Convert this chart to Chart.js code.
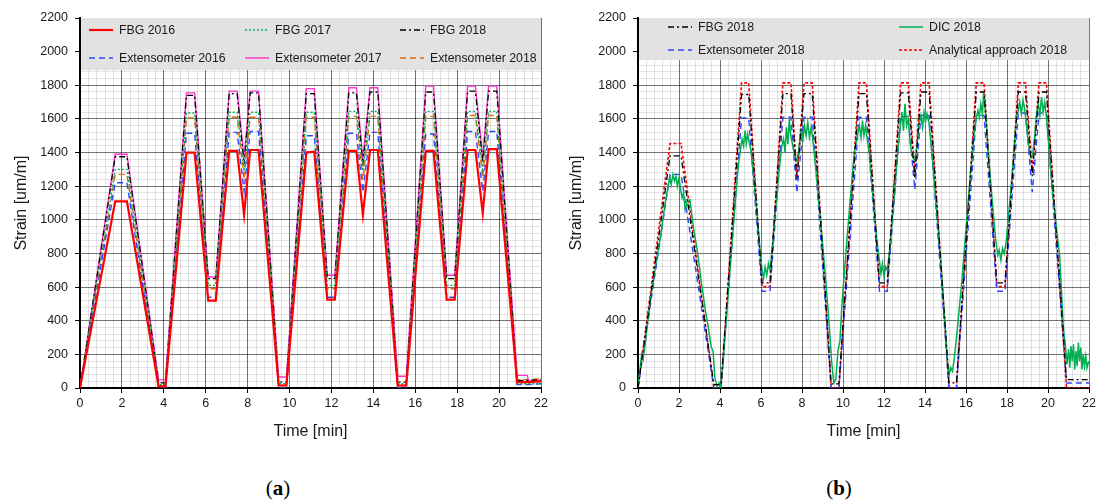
<!DOCTYPE html>
<html>
<head>
<meta charset="utf-8">
<script src="https://cdn.jsdelivr.net/npm/chart.js@4.4.1/dist/chart.umd.min.js"></script>
<style>
  html, body { margin: 0; padding: 0; background: #fff; width: 1099px; height: 504px; overflow: hidden; }
  canvas { position: absolute; top: 0; }
  #chartA { left: 0; }
  #chartB { left: 555px; }
  .cap { position: absolute; top: 476px; width: 60px; text-align: center;
         font-family: 'Liberation Serif', 'DejaVu Serif', serif; font-size: 21px; color: #000; }
</style>
</head>
<body>
<canvas id="chartA" width="555" height="450"></canvas>
<canvas id="chartB" width="544" height="450"></canvas>
<div class="cap" style="left:248px">(<b>a</b>)</div>
<div class="cap" style="left:809px">(<b>b</b>)</div>
<script>
// panel (a): time points of the load profile, strain per sensor
const timeA = [0, 1.68, 2.24, 3.75, 4.08, 5.08, 5.47, 6.12, 6.48, 7.12, 7.5, 7.83, 8.12, 8.52, 9.48, 9.85,
  10.8, 11.18, 11.8, 12.16, 12.83, 13.19, 13.5, 13.84, 14.21, 15.16, 15.57, 16.5, 16.87, 17.5, 17.88,
  18.5, 18.87, 19.22, 19.5, 19.89, 20.86, 21.35, 21.4, 22];
const fbg2016 = [0, 1110, 1110, 10, 10, 1400, 1400, 520, 520, 1410, 1410, 1030, 1415, 1415, 15, 15,
  1400, 1405, 525, 525, 1410, 1410, 1030, 1415, 1415, 15, 15, 1410, 1410, 525, 525,
  1415, 1415, 1040, 1420, 1420, 35, 35, 35, 40];
const fbg2017 = [0, 1300, 1300, 20, 20, 1635, 1635, 610, 610, 1640, 1640, 1290, 1640, 1640, 25, 25,
  1640, 1640, 610, 610, 1645, 1645, 1290, 1645, 1645, 25, 25, 1645, 1645, 610, 610,
  1645, 1645, 1300, 1645, 1645, 25, 25, 25, 25];
const fbg2018A = [0, 1375, 1375, 30, 30, 1740, 1740, 650, 650, 1750, 1750, 1330, 1755, 1755, 35, 35,
  1750, 1750, 650, 650, 1755, 1755, 1330, 1760, 1760, 35, 35, 1760, 1760, 650, 650,
  1765, 1765, 1340, 1765, 1765, 45, 45, 45, 50];
const ext2016 = [0, 1220, 1220, 0, 0, 1515, 1515, 540, 540, 1520, 1520, 1170, 1525, 1525, 0, 0,
  1500, 1500, 540, 540, 1515, 1515, 1165, 1520, 1520, 0, 0, 1510, 1510, 540, 540,
  1525, 1525, 1170, 1525, 1525, 20, 20, 20, 25];
const ext2017 = [0, 1390, 1390, 50, 50, 1755, 1755, 660, 660, 1765, 1765, 1370, 1765, 1765, 65, 65,
  1780, 1780, 670, 670, 1785, 1785, 1360, 1785, 1785, 70, 70, 1795, 1795, 670, 670,
  1795, 1795, 1370, 1795, 1795, 75, 75, 40, 45];
const ext2018A = [0, 1270, 1270, 10, 10, 1605, 1605, 590, 590, 1610, 1610, 1240, 1610, 1610, 15, 15,
  1610, 1610, 590, 590, 1615, 1615, 1240, 1615, 1615, 15, 15, 1615, 1615, 590, 590,
  1620, 1620, 1250, 1620, 1620, 50, 50, 50, 55];

// panel (b)
const timeB = [0, 1.56, 2.1, 3.7, 4.05, 5.05, 5.4, 6.05, 6.44, 7.07, 7.46, 7.75, 8.1, 8.5, 9.42, 9.8,
  10.78, 11.14, 11.78, 12.16, 12.81, 13.18, 13.5, 13.8, 14.2, 15.17, 15.53, 16.5, 16.88, 17.5, 17.9,
  18.55, 18.9, 19.23, 19.56, 19.92, 20.9, 22];
const fbg2018B = [0, 1380, 1380, 20, 20, 1745, 1745, 625, 625, 1750, 1750, 1240, 1750, 1750, 25, 25,
  1750, 1750, 625, 625, 1755, 1755, 1250, 1760, 1760, 30, 30, 1760, 1760, 625, 625,
  1760, 1760, 1260, 1760, 1760, 50, 50];
const ext2018B = [0, 1270, 1270, 0, 0, 1605, 1605, 575, 575, 1610, 1610, 1160, 1610, 1610, 0, 0,
  1610, 1610, 575, 575, 1615, 1615, 1180, 1620, 1620, 0, 0, 1620, 1620, 575, 575,
  1635, 1635, 1165, 1635, 1635, 30, 30];
const analytical2018 = [0, 1454, 1454, 0, 0, 1814, 1814, 603, 603, 1814, 1814, 1250, 1814, 1814, 0, 0,
  1814, 1814, 603, 603, 1814, 1814, 1290, 1814, 1814, 0, 0, 1814, 1814, 603, 603,
  1814, 1814, 1300, 1814, 1814, 0, 0];

// DIC is noisy, read point by point
const dicTime = [0, 0.12, 0.18, 0.25, 0.35, 0.5, 0.67, 0.85, 1.0, 1.15, 1.3, 1.45, 1.55, 1.62, 1.7, 1.78,
  1.85, 1.92, 2.0, 2.08, 2.15, 2.22, 2.3, 2.4, 2.53, 2.7, 2.9, 3.1, 3.3, 3.42, 3.5, 3.58, 3.66, 3.75,
  3.85, 3.95, 4.02, 4.15, 4.35, 4.55, 4.75, 4.9, 5.0, 5.08, 5.15, 5.22, 5.28, 5.35, 5.42, 5.5, 5.65,
  5.8, 5.95, 6.05, 6.12, 6.2, 6.28, 6.36, 6.44, 6.55, 6.7, 6.85, 7.0, 7.1, 7.17, 7.24, 7.31, 7.38,
  7.45, 7.55, 7.65, 7.75, 7.85, 7.95, 8.05, 8.12, 8.2, 8.28, 8.36, 8.45, 8.55, 8.7, 8.9, 9.1, 9.3,
  9.45, 9.55, 9.65, 9.75, 9.85, 9.95, 10.15, 10.35, 10.55, 10.7, 10.8, 10.88, 10.95, 11.02, 11.1,
  11.18, 11.3, 11.5, 11.65, 11.78, 11.85, 11.92, 12.0, 12.08, 12.16, 12.3, 12.5, 12.7, 12.8, 12.88,
  12.95, 13.02, 13.1, 13.18, 13.28, 13.38, 13.5, 13.6, 13.7, 13.8, 13.88, 13.95, 14.02, 14.1, 14.2,
  14.35, 14.55, 14.75, 14.95, 15.1, 15.18, 15.26, 15.34, 15.42, 15.5, 15.6, 15.8, 16.0, 16.2, 16.4,
  16.5, 16.58, 16.65, 16.72, 16.8, 16.86, 16.95, 17.1, 17.3, 17.45, 17.55, 17.62, 17.7, 17.78, 17.86,
  17.95, 18.1, 18.3, 18.45, 18.55, 18.62, 18.7, 18.78, 18.86, 18.95, 19.05, 19.15, 19.25, 19.35,
  19.45, 19.52, 19.6, 19.68, 19.76, 19.84, 19.92, 20.05, 20.24, 20.4, 20.57, 20.75, 20.85, 20.92,
  21.0, 21.06, 21.12, 21.18, 21.24, 21.3, 21.36, 21.42, 21.48, 21.54, 21.6, 21.66, 21.72, 21.78,
  21.84, 21.9, 21.96, 22.0];
const dicStrain = [0, 140, 200, 170, 260, 420, 580, 720, 830, 940, 1080, 1190, 1250, 1210, 1270, 1230,
  1260, 1200, 1250, 1180, 1130, 1160, 1060, 1110, 1120, 960, 810, 620, 450, 370, 300, 240, 220, 60,
  10, 30, 0, 150, 480, 800, 1120, 1330, 1420, 1480, 1440, 1530, 1450, 1510, 1460, 1420, 1250,
  1040, 820, 700, 650, 720, 670, 740, 700, 830, 1050, 1250, 1430, 1480, 1400, 1550, 1450, 1600,
  1500, 1440, 1380, 1350, 1420, 1530, 1480, 1560, 1500, 1580, 1490, 1550, 1450, 1270, 1000, 720, 420,
  150, 30, 50, 220, 280, 500, 820, 1120, 1400, 1500, 1560, 1490, 1590, 1500, 1560,
  1480, 1380, 1080, 880, 750, 680, 740, 660, 720, 700, 850, 1150, 1450, 1560, 1640,
  1530, 1690, 1560, 1600, 1450, 1380, 1350, 1430, 1560, 1620, 1550, 1640, 1580, 1630, 1570,
  1380, 1080, 780, 430, 150, 80, 120, 100, 170, 260, 380, 640, 950, 1250, 1520,
  1600, 1650, 1610, 1690, 1630, 1750, 1640, 1380, 1080, 880, 790, 820, 760, 830, 800,
  860, 1060, 1350, 1600, 1650, 1700, 1630, 1710, 1660, 1560, 1450, 1370, 1380, 1500,
  1640, 1690, 1620, 1730, 1640, 1700, 1610, 1420, 1140, 960, 780, 350, 250, 140,
  230, 120, 250, 160, 260, 110, 220, 130, 270, 160, 240, 110, 200, 130,
  190, 120, 150, 160];

const pts = (t, v) => t.map((x, i) => ({ x: x, y: v[i] }));
const isMajor = (v, step) => Math.abs(v / step - Math.round(v / step)) < 1e-6;

Chart.defaults.font.family = "'Liberation Sans', Arial, sans-serif";
Chart.defaults.color = '#1a1a1a';

// grey legend block drawn inside the top of the plot
const legendBox = {
  id: 'legendBox',
  beforeDatasetsDraw(chart, args, opts) {
    const { ctx, chartArea: a, scales } = chart;
    const yb = scales.y.getPixelForValue(opts.bottom);
    ctx.save();
    ctx.fillStyle = '#e2e2e2';
    ctx.fillRect(a.left + 1, a.top, a.right - a.left - 1, yb - a.top);
    ctx.font = "12.3px 'Liberation Sans', Arial, sans-serif";
    ctx.textBaseline = 'middle';
    chart.data.datasets.forEach((ds, i) => {
      const x = a.left + opts.cols[i % opts.cols.length];
      const yy = opts.rows[Math.floor(i / opts.cols.length)];
      ctx.strokeStyle = ds.borderColor;
      ctx.lineWidth = ds.borderWidth;
      ctx.setLineDash(ds.borderDash || []);
      ctx.beginPath();
      ctx.moveTo(x, yy);
      ctx.lineTo(x + 24, yy);
      ctx.stroke();
      ctx.setLineDash([]);
      ctx.fillStyle = '#1a1a1a';
      ctx.fillText(ds.label, x + 30, yy + 0.5);
    });
    ctx.restore();
  }
};

function makeOptions(yWidth, padRight, legendOpts) {
  const major = c => c.tick && isMajor(c.tick.value, c.scale.axis === 'x' ? 2 : 200);
  const gridColor = c => major(c) ? 'rgba(0,0,0,0.55)' : 'rgba(0,0,0,0.11)';
  const tickColor = c => major(c) ? '#000' : 'rgba(0,0,0,0)';
  return {
    responsive: false,
    animation: false,
    layout: { padding: { left: 8, right: padRight, top: 18, bottom: 5 } },
    elements: { point: { radius: 0 }, line: { tension: 0, fill: false } },
    plugins: { legend: { display: false }, tooltip: { enabled: false }, legendBox: legendOpts },
    scales: {
      x: {
        type: 'linear', min: 0, max: 22,
        afterFit: s => { s.height = 57; },
        ticks: { stepSize: 0.4, autoSkip: false, maxRotation: 0, padding: 3, font: { size: 12.5 },
          callback: v => isMajor(v, 2) ? String(Math.round(v)) : '' },
        grid: { color: gridColor, tickColor: tickColor, tickLength: 5 },
        border: { color: '#000', width: 2 },
        title: { display: true, text: 'Time [min]', font: { size: 16 }, padding: { top: 4, bottom: 4 } }
      },
      y: {
        type: 'linear', min: 0, max: 2200,
        afterFit: s => { s.width = yWidth; },
        ticks: { stepSize: 40, autoSkip: false, padding: 7, font: { size: 12.5 },
          callback: v => isMajor(v, 200) ? String(Math.round(v)) : '' },
        grid: { color: gridColor, tickColor: tickColor, tickLength: 5 },
        border: { color: '#000', width: 2 },
        title: { display: true, text: 'Strain [um/m]', font: { size: 16 }, padding: { top: 4, bottom: 4 } }
      }
    }
  };
}

new Chart(document.getElementById('chartA'), {
  type: 'line',
  data: {
    datasets: [
      { label: 'FBG 2016', data: pts(timeA, fbg2016), borderColor: '#ff0000', borderWidth: 2.2 },
      { label: 'FBG 2017', data: pts(timeA, fbg2017), borderColor: '#00b050', borderWidth: 1.4, borderDash: [2, 2] },
      { label: 'FBG 2018', data: pts(timeA, fbg2018A), borderColor: '#000000', borderWidth: 1.3, borderDash: [6, 3, 2, 3] },
      { label: 'Extensometer 2016', data: pts(timeA, ext2016), borderColor: '#3344ff', borderWidth: 1.4, borderDash: [6, 4] },
      { label: 'Extensometer 2017', data: pts(timeA, ext2017), borderColor: '#ff33cc', borderWidth: 1.4 },
      { label: 'Extensometer 2018', data: pts(timeA, ext2018A), borderColor: '#e46c0a', borderWidth: 1.4, borderDash: [6, 4] }
    ]
  },
  options: makeOptions(72, 14, { bottom: 1890, rows: [30, 58], cols: [9, 165, 320] }),
  plugins: [legendBox]
});

new Chart(document.getElementById('chartB'), {
  type: 'line',
  data: {
    datasets: [
      { label: 'FBG 2018', data: pts(timeB, fbg2018B), borderColor: '#000000', borderWidth: 1.3, borderDash: [6, 3, 2, 3] },
      { label: 'DIC 2018', data: pts(dicTime, dicStrain), borderColor: '#00b050', borderWidth: 1.5 },
      { label: 'Extensometer 2018', data: pts(timeB, ext2018B), borderColor: '#3344ff', borderWidth: 1.4, borderDash: [6, 4] },
      { label: 'Analytical approach 2018', data: pts(timeB, analytical2018), borderColor: '#ff0000', borderWidth: 1.6, borderDash: [3, 2] }
    ]
  },
  options: makeOptions(75, 7, { bottom: 1950, rows: [27, 50], cols: [30, 261] }),
  plugins: [legendBox]
});
</script>
</body>
</html>
